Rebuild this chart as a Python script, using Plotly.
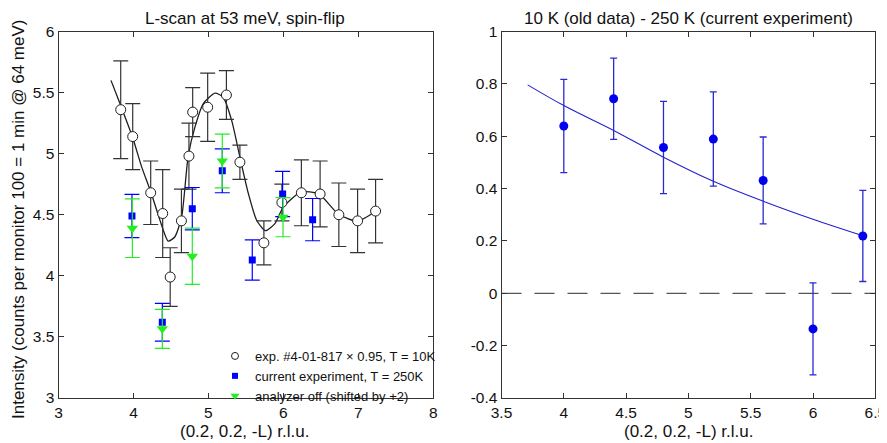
import plotly.graph_objects as go

# ---------------- Left panel data ----------------
L_10K = [3.83, 3.99, 4.23, 4.39, 4.49, 4.64, 4.74, 4.79, 4.99, 5.24, 5.42, 5.74, 5.98, 6.24, 6.49, 6.74, 6.99, 7.23]
I_10K = [5.36, 5.14, 4.68, 4.51, 3.99, 4.45, 4.98, 5.34, 5.38, 5.48, 4.93, 4.27, 4.60, 4.68, 4.67, 4.50, 4.45, 4.53]
E_10K = [0.40, 0.27, 0.26, 0.36, 0.24, 0.26, 0.27, 0.20, 0.28, 0.20, 0.14, 0.18, 0.15, 0.27, 0.27, 0.26, 0.26, 0.26]

L_FIT = [3.70, 3.82, 3.985, 4.11, 4.23, 4.353, 4.464, 4.553, 4.643, 4.73, 4.82, 4.93, 5.087, 5.197, 5.31,
         5.42, 5.53, 5.643, 5.76, 5.887, 6.00, 6.22, 6.353, 6.487, 6.737, 6.984, 7.233]
I_FIT = [5.60, 5.41, 5.14, 4.89, 4.69, 4.456, 4.284, 4.32, 4.483, 4.98, 5.217, 5.408, 5.495, 5.462, 5.272,
         4.972, 4.68, 4.455, 4.37, 4.428, 4.564, 4.682, 4.687, 4.665, 4.504, 4.447, 4.529]

L_250K = [3.98, 4.385, 4.785, 5.185, 5.585, 5.99, 6.39]
I_250K = [4.49, 3.62, 4.55, 4.86, 4.13, 4.67, 4.46]
E_250K = [0.177, 0.155, 0.173, 0.18, 0.165, 0.185, 0.173]

L_AOFF = [3.985, 4.385, 4.785, 5.185, 5.995]
I_AOFF = [4.39, 3.566, 4.16, 4.94, 4.48]
E_AOFF = [0.24, 0.16, 0.23, 0.22, 0.16]

LEGEND_NAMES = ["exp. #4-01-817 \u00d7 0.95, T = 10K",
                "current experiment, T = 250K",
                "analyzer off (shifted by +2)"]

# ---------------- Right panel data ----------------
L_DIFF = [4.0, 4.4, 4.8, 5.2, 5.6, 6.0, 6.4]
D_DIFF = [0.639, 0.743, 0.557, 0.589, 0.431, -0.136, 0.219]
E_DIFF = [0.178, 0.155, 0.176, 0.18, 0.166, 0.176, 0.174]

L_DFIT = [3.71, 4.0, 4.4, 4.8, 5.2, 5.6, 6.0, 6.4]
D_DFIT = [0.796, 0.717, 0.622, 0.52, 0.428, 0.352, 0.283, 0.220]

# tick labels
LX_TICKS = [3, 4, 5, 6, 7, 8]
LY_TICKS = [3, 3.5, 4, 4.5, 5, 5.5, 6]
LY_TEXT = ["3", "3.5", "4", "4.5", "5", "5.5", "6"]
RX_TICKS = [3.5, 4, 4.5, 5, 5.5, 6, 6.5]
RX_TEXT = ["3.5", "4", "4.5", "5", "5.5", "6", "6.5"]
RY_TICKS = [-0.4, -0.2, 0, 0.2, 0.4, 0.6, 0.8, 1]
RY_TEXT = ["-0.4", "-0.2", "0", "0.2", "0.4", "0.6", "0.8", "1"]

FONT = "Liberation Sans, Arial, sans-serif"
PAGE_W, PAGE_H = 887, 443
OFF = 8  # default body margin of the html page
W, H = PAGE_W - OFF, PAGE_H - OFF

BLACK = "#1e1e1e"
BLUE = "#0000ff"
GREEN = "#22ee22"

fig = go.Figure()

# left panel
fig.add_trace(go.Scatter(x=L_FIT, y=I_FIT, mode="lines",
                         line=dict(color=BLACK, width=1.3, shape="spline", smoothing=0.6),
                         showlegend=False, xaxis="x", yaxis="y"))
fig.add_trace(go.Scatter(x=L_10K, y=I_10K, mode="markers", showlegend=False,
                         marker=dict(symbol="circle", size=10, color="white", line=dict(color=BLACK, width=1)),
                         error_y=dict(type="data", array=E_10K, color="#333", thickness=1.2, width=7.5),
                         xaxis="x", yaxis="y"))
fig.add_trace(go.Scatter(x=L_250K, y=I_250K, mode="markers", showlegend=False,
                         marker=dict(symbol="square", size=7, color=BLUE),
                         error_y=dict(type="data", array=E_250K, color=BLUE, thickness=1.2, width=7.5),
                         xaxis="x", yaxis="y"))
fig.add_trace(go.Scatter(x=L_AOFF, y=I_AOFF, mode="markers", showlegend=False,
                         marker=dict(symbol="triangle-down", size=10, color=GREEN),
                         error_y=dict(type="data", array=E_AOFF, color=GREEN, thickness=1.2, width=7.5),
                         xaxis="x", yaxis="y"))

# legend entries (smaller symbols, like the reference legend)
fig.add_trace(go.Scatter(x=[None], y=[None], mode="markers", name=LEGEND_NAMES[0],
                         marker=dict(symbol="circle", size=7, color="white", line=dict(color=BLACK, width=1)),
                         xaxis="x", yaxis="y"))
fig.add_trace(go.Scatter(x=[None], y=[None], mode="markers", name=LEGEND_NAMES[1],
                         marker=dict(symbol="square", size=6, color=BLUE), xaxis="x", yaxis="y"))
fig.add_trace(go.Scatter(x=[None], y=[None], mode="markers", name=LEGEND_NAMES[2],
                         marker=dict(symbol="triangle-down", size=8, color=GREEN), xaxis="x", yaxis="y"))

# right panel
fig.add_shape(type="line", xref="x2 domain", yref="y2", x0=0, x1=1, y0=0, y1=0,
              line=dict(color="#555555", width=1.2, dash="20px,13px"), layer="below")
fig.add_trace(go.Scatter(x=L_DFIT, y=D_DFIT, mode="lines", line=dict(color="#2222cc", width=1.1, shape="spline"),
                         showlegend=False, xaxis="x2", yaxis="y2"))
fig.add_trace(go.Scatter(x=L_DIFF, y=D_DIFF, mode="markers", showlegend=False,
                         marker=dict(symbol="circle", size=9, color="#0000ee"),
                         error_y=dict(type="data", array=E_DIFF, color="#2a2ad0", thickness=1.3, width=3.5),
                         xaxis="x2", yaxis="y2"))


def fx(p):
    return (p - OFF) / W


def fy(p):
    return 1 - (p - OFF) / H


axis_common = dict(showline=True, linecolor="#333", linewidth=1, mirror="allticks", ticks="inside",
                   ticklen=5, tickcolor="#333", showgrid=False, zeroline=False, automargin=False,
                   tickfont=dict(family=FONT, size=15.5, color="#111"))

fig.update_layout(
    width=W, height=H,
    margin=dict(l=0, r=0, t=0, b=0),
    paper_bgcolor="white", plot_bgcolor="white",
    font=dict(family=FONT, color="#111"),
    xaxis=dict(domain=[fx(58.5), fx(433.3)], range=[3, 8], tickvals=LX_TICKS, anchor="y", **axis_common),
    yaxis=dict(domain=[fy(398), fy(31.5)], range=[3, 6], tickvals=LY_TICKS, ticktext=LY_TEXT, anchor="x", **axis_common),
    xaxis2=dict(domain=[fx(501.5), fx(875.3)], range=[3.5, 6.5], tickvals=RX_TICKS, ticktext=RX_TEXT, anchor="y2", **axis_common),
    yaxis2=dict(domain=[fy(398), fy(31.5)], range=[-0.4, 1], tickvals=RY_TICKS, ticktext=RY_TEXT, anchor="x2", **axis_common),
    legend=dict(x=fx(215), y=fy(341), xanchor="left", yanchor="top", bgcolor="rgba(0,0,0,0)",
                font=dict(family=FONT, size=13, color="#111"), itemwidth=30, tracegroupgap=0),
    showlegend=True,
)

title_font = dict(family=FONT, size=17, color="#111")
fig.add_annotation(text="L-scan at 53 meV, spin-flip", xref="paper", yref="paper", x=fx(245), y=fy(8),
                   showarrow=False, font=title_font, xanchor="center", yanchor="top", borderpad=0)
fig.add_annotation(text="10 K (old data) - 250 K (current experiment)", xref="paper", yref="paper",
                   x=fx(688), y=fy(8), showarrow=False, font=title_font, xanchor="center", yanchor="top",
                   borderpad=0)
fig.add_annotation(text="(0.2, 0.2, -L) r.l.u.", xref="paper", yref="paper", x=fx(244), y=fy(431),
                   showarrow=False, font=title_font, xanchor="center", yanchor="middle")
fig.add_annotation(text="(0.2, 0.2, -L) r.l.u.", xref="paper", yref="paper", x=fx(688), y=fy(431),
                   showarrow=False, font=title_font, xanchor="center", yanchor="middle")
fig.add_annotation(text="Intensity (counts per monitor 100 = 1 min @ 64 meV)", xref="paper", yref="paper",
                   x=fx(19), y=fy(220), textangle=-90, showarrow=False,
                   font=title_font, xanchor="center", yanchor="middle")

fig.write_html("out.html")
